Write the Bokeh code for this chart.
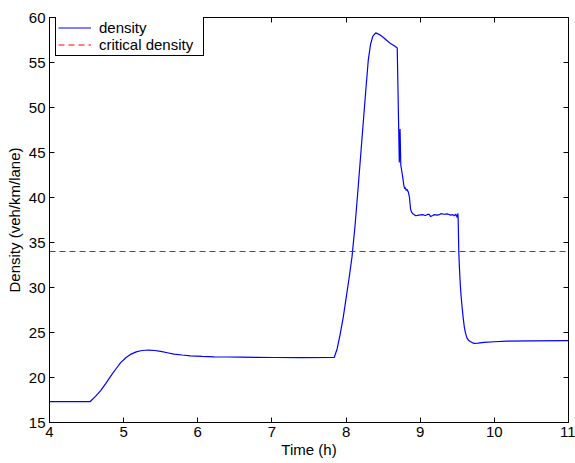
from bokeh.plotting import figure
from bokeh.models import LinearAxis, FixedTicker, Range1d
from bokeh.embed import file_html
from bokeh.resources import INLINE

# time (h) and density (veh/km/lane)
time_h = [
    4.0, 4.55, 4.62, 4.69, 4.76, 4.83, 4.90, 4.96, 5.03, 5.10, 5.17, 5.23,
    5.29, 5.34, 5.42, 5.50, 5.59, 5.68, 5.79, 5.90, 6.06, 6.22, 6.40, 6.58,
    6.80, 7.03, 7.40, 7.84, 7.88, 7.92, 7.96, 8.00, 8.04, 8.08, 8.12, 8.16,
    8.20, 8.24, 8.27, 8.30, 8.33, 8.36, 8.40, 8.45, 8.50, 8.55, 8.60, 8.65,
    8.69, 8.718, 8.728, 8.738, 8.75, 8.765, 8.78, 8.79, 8.80, 8.81, 8.82,
    8.84, 8.855, 8.87, 8.885, 8.90, 8.94, 8.98, 9.03, 9.07, 9.10, 9.12,
    9.14, 9.17, 9.19, 9.23, 9.26, 9.28, 9.32, 9.37, 9.41, 9.44, 9.46, 9.48,
    9.50, 9.508, 9.512, 9.52, 9.53, 9.54, 9.55, 9.565, 9.58, 9.595, 9.61,
    9.63, 9.65, 9.675, 9.72, 9.78, 9.86, 10.0, 10.17, 10.5, 11.0,
]
density = [
    17.33, 17.33, 17.9, 18.55, 19.35, 20.2, 21.0, 21.65, 22.2, 22.6, 22.85,
    22.97, 23.03, 23.04, 23.0, 22.9, 22.75, 22.6, 22.5, 22.41, 22.35, 22.3,
    22.28, 22.26, 22.24, 22.22, 22.21, 22.22, 23.2, 24.8, 26.6, 28.8, 31.0,
    33.4, 36.8, 40.8, 45.0, 49.2, 52.3, 55.3, 57.0, 57.9, 58.3, 58.1, 57.8,
    57.45, 57.1, 56.85, 56.6, 43.9, 47.6, 43.6, 43.0, 42.2, 41.3, 41.0,
    41.1, 40.8, 40.9, 40.6, 40.0, 38.7, 38.35, 38.2, 37.97, 38.04, 38.1,
    38.0, 38.12, 38.14, 37.88, 38.0, 38.1, 38.04, 38.1, 38.2, 38.14, 38.17,
    38.04, 38.1, 37.97, 38.14, 37.77, 38.25, 37.6, 34.0, 32.0, 30.4, 29.2,
    27.8, 26.6, 25.6, 24.95, 24.4, 24.15, 24.0, 23.8, 23.83, 23.9, 23.97,
    24.04, 24.07, 24.1,
]
critical_density = 34
x_ticks = [4, 5, 6, 7, 8, 9, 10, 11]
y_ticks = [15, 20, 25, 30, 35, 40, 45, 50, 55, 60]

FONT = "Liberation Sans"
FS = "15px"

p = figure(
    width=575, height=463,
    x_range=Range1d(4, 11), y_range=Range1d(15, 60),
    output_backend="svg", toolbar_location=None,
    x_axis_label="Time (h)", y_axis_label="Density (veh/km/lane)",
    min_border_left=49, min_border_right=7, min_border_top=17, min_border_bottom=41,
)
p.grid.visible = False
p.outline_line_color = "black"
p.outline_line_alpha = 1
p.outline_line_width = 1


def style_axis(ax, labels=True):
    ax.axis_line_color = "black"
    ax.major_tick_line_color = "black"
    ax.major_tick_in = 5
    ax.major_tick_out = 0
    ax.minor_tick_in = 0
    ax.minor_tick_out = 0
    ax.major_label_text_font = FONT
    ax.major_label_text_color = "black"
    ax.major_label_text_font_size = FS
    ax.axis_label_text_font = FONT
    ax.axis_label_text_font_style = "normal"
    ax.axis_label_text_font_size = FS
    ax.axis_label_text_color = "black"
    if labels:
        ax.major_label_standoff = 4
        ax.axis_label_standoff = 3
    else:
        ax.major_label_overrides = {t: "" for t in ax.ticker.ticks}
        ax.major_label_standoff = 0


p.xaxis.ticker = FixedTicker(ticks=x_ticks)
p.yaxis.ticker = FixedTicker(ticks=y_ticks)
style_axis(p.xaxis[0])
style_axis(p.yaxis[0])
p.xaxis.axis_label_standoff = 1

top = LinearAxis(ticker=FixedTicker(ticks=x_ticks))
right = LinearAxis(ticker=FixedTicker(ticks=y_ticks))
style_axis(top, labels=False)
style_axis(right, labels=False)
p.add_layout(top, "above")
p.add_layout(right, "right")

p.line(time_h, density, color="#0000ff", line_width=1.2, legend_label="density")
p.line([time_h[0], time_h[-1]], [critical_density, critical_density],
       color="#ff0000", line_width=1.1, line_dash="6 4", legend_label="critical density")

lg = p.legend[0]
lg.location = (6, 366)
lg.margin = 0
lg.padding = 2
lg.spacing = 0
lg.glyph_width = 33
lg.glyph_height = 17
lg.label_height = 17
lg.label_width = 102
lg.label_standoff = 8
lg.label_text_font = FONT
lg.label_text_font_size = FS
lg.label_text_color = "black"
lg.border_line_color = "black"
lg.border_line_alpha = 1
lg.border_line_width = 1
lg.background_fill_alpha = 1

open("out.html", "w").write(file_html(p, INLINE))
